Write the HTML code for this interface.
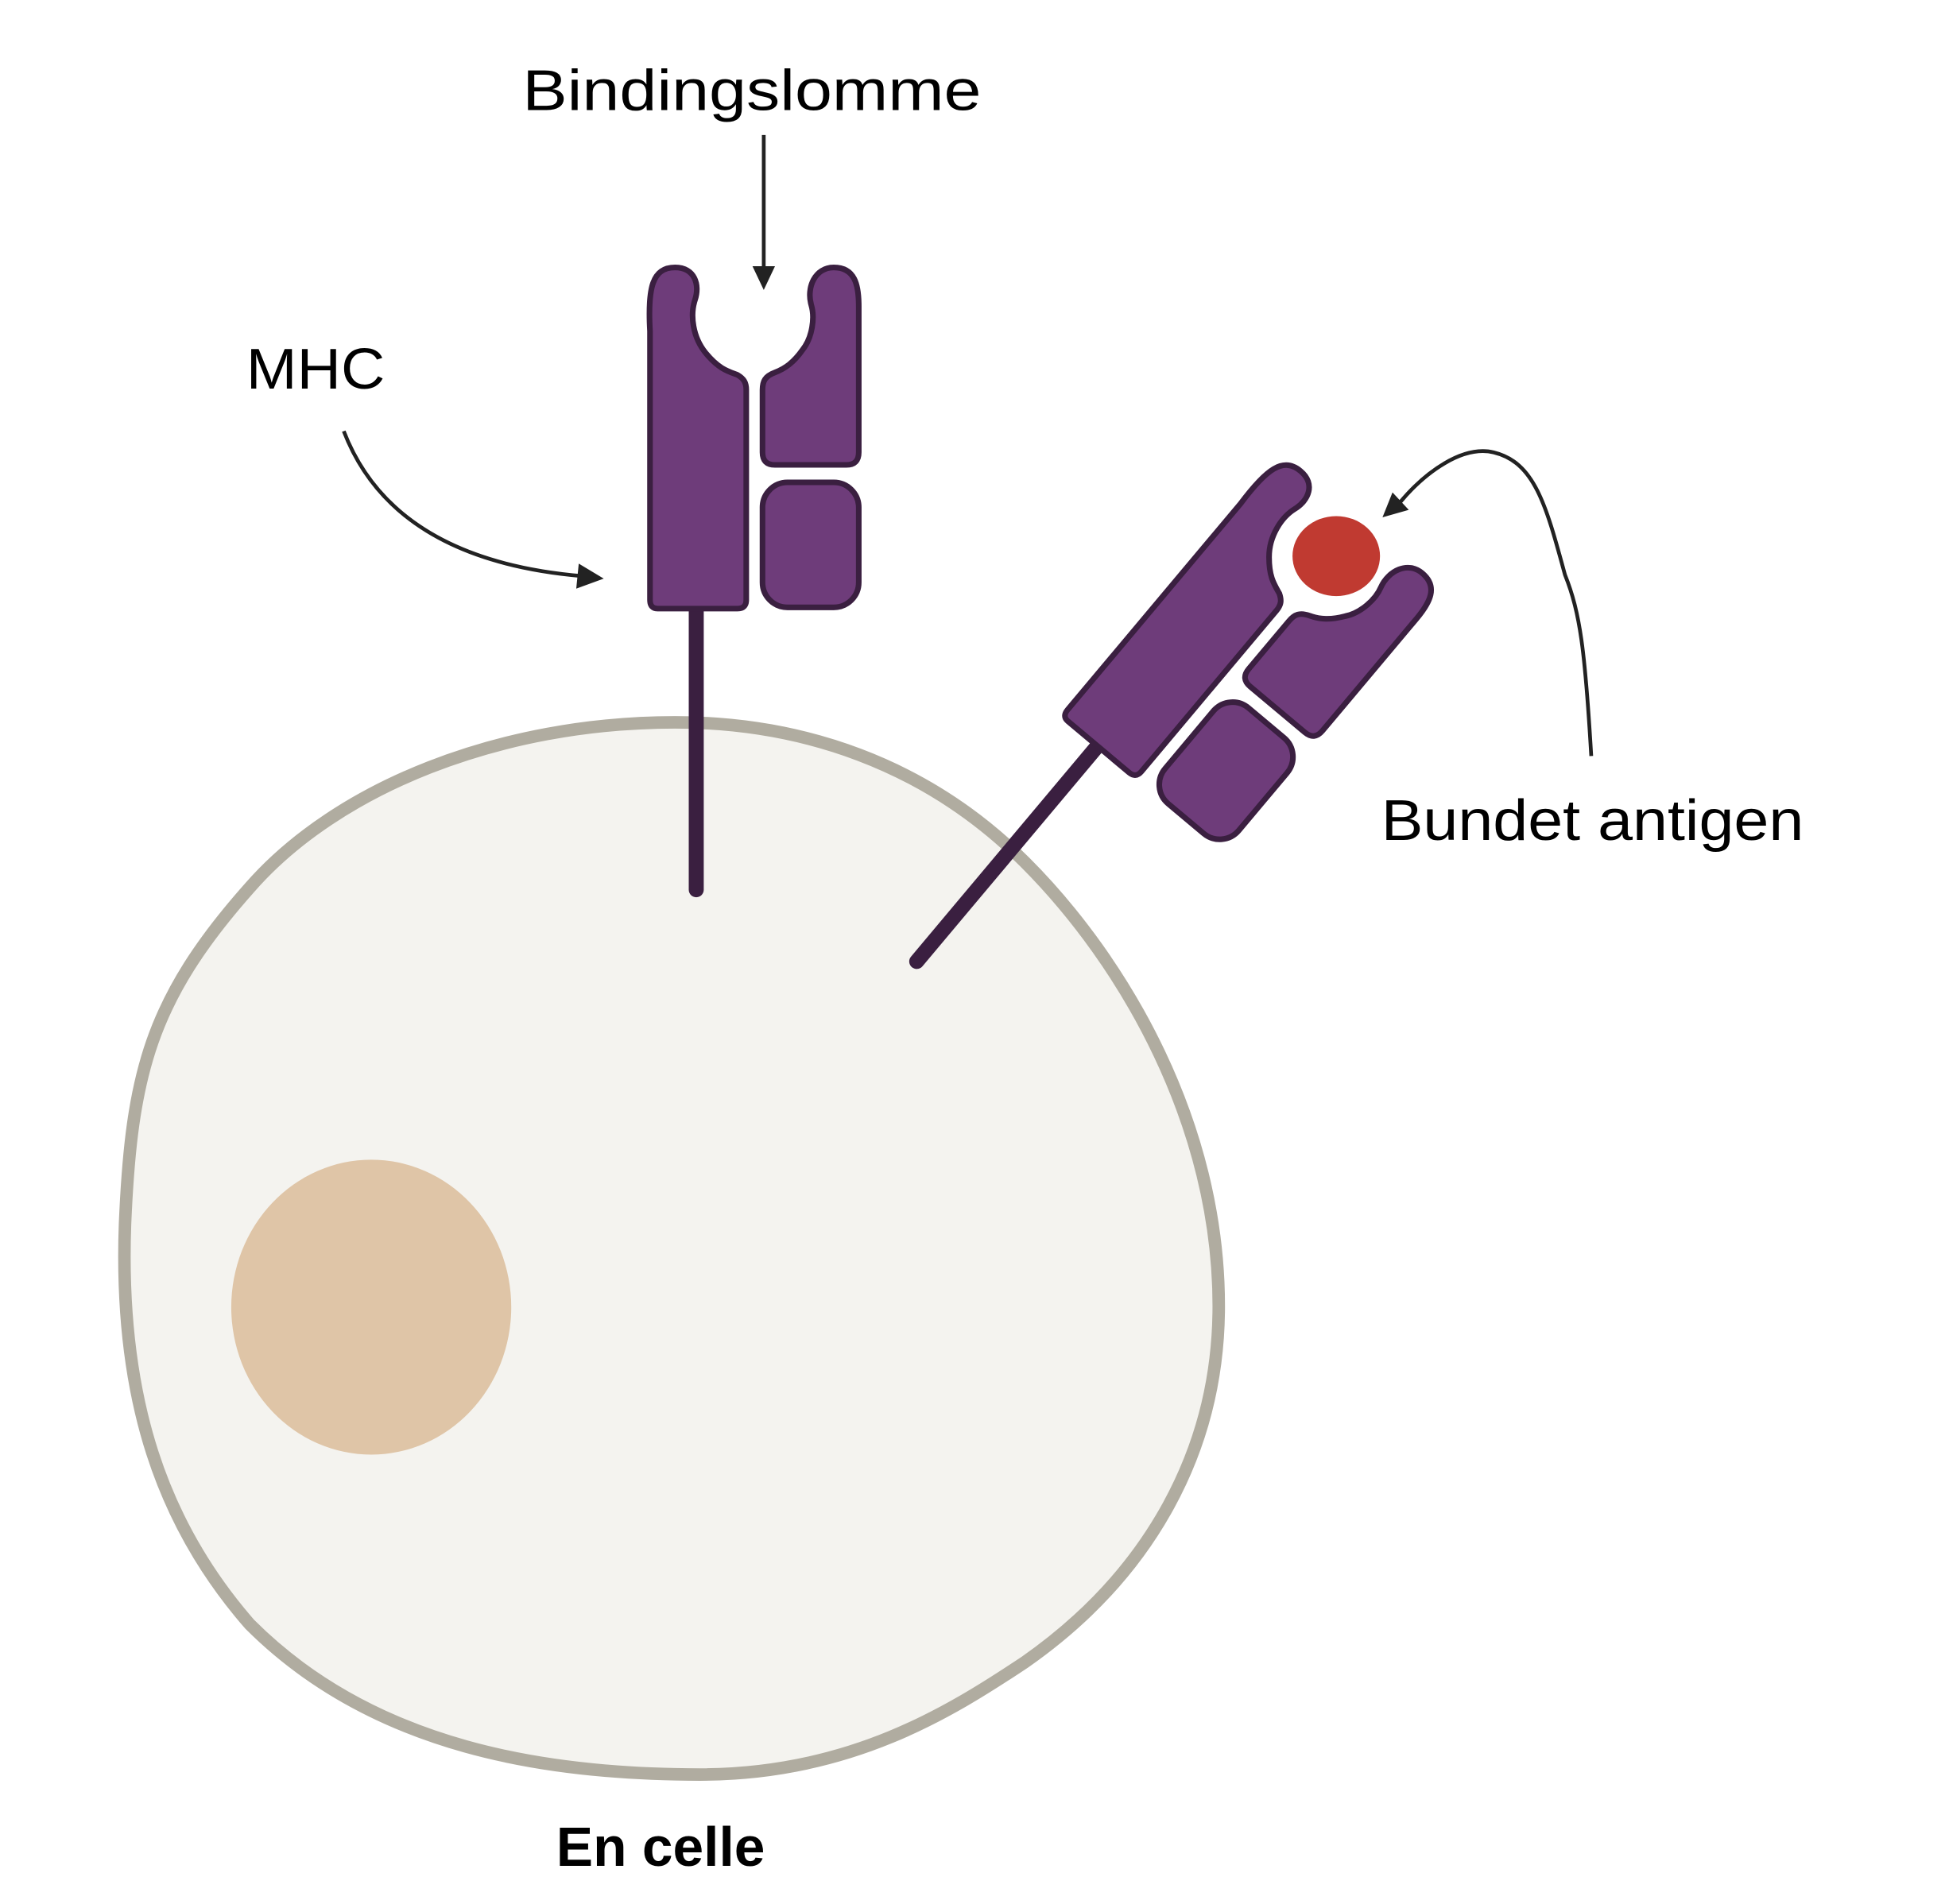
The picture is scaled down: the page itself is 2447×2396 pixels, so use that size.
<!DOCTYPE html>
<html><head><meta charset="utf-8"><style>html,body{margin:0;padding:0;background:#fff}svg{display:block}</style></head>
<body>
<svg width="2447" height="2396" viewBox="0 0 1556 1523.6" preserveAspectRatio="none" xmlns="http://www.w3.org/2000/svg">
<defs>
<g id="mhc">
<line x1="557" y1="487" x2="557" y2="712" stroke="#3a1f40" stroke-width="12" stroke-linecap="round"/>
<g fill="#6e3c7a" stroke="#3a1f40" stroke-width="4.5" stroke-linejoin="round">
<path d="M520,480 L520,265 C518,230 522,214 540,214 C556,214 560,228 556,240 C552,252 554,270 565,283 C575,295 582,297 590,300 C595,303 597,306 597,312 L597,480 Q597,487 590,487 L526,487 Q520,487 520,480Z"/>
<path d="M610,312 C610,305 612,301 620,298 C628,295 635,290 642,280 C650,270 652,254 649,244 C645,230 652,214 667,214 C684,214 687,228 687,245 L687,362 Q687,372 677,372 L620,372 Q610,372 610,362Z"/>
<rect x="610" y="386" width="77" height="100" rx="20"/>
</g>
</g>
</defs>
<path d="M540,578 C400,578 270,630 200,710 C120,800 105,860 100,980 C95,1120 130,1220 200,1300 C300,1400 440,1420 560,1420 C680,1420 760,1370 820,1330 C920,1260 975,1160 975,1045 C975,900 900,770 820,690 C740,610 640,578 540,578Z" fill="#f4f3ef" stroke="#b0aca0" stroke-width="10"/>
<ellipse cx="297" cy="1046" rx="112" ry="118" fill="#dfc5a7"/>
<use href="#mhc"/>
<g transform="translate(878,597) rotate(40) translate(-557,-487)"><use href="#mhc"/></g>
<ellipse cx="1069" cy="445" rx="35" ry="32" fill="#c03a31"/>
<g stroke="#222" stroke-width="3" fill="none">
<line x1="611" y1="108" x2="611" y2="215"/>
<path d="M275,345 C300,410 360,452 466,461"/>
<path d="M1273,605 C1268,520 1264,490 1252,460 C1237,405 1228,370 1195,362 C1170,356 1140,378 1120,402"/>
</g>
<g fill="#222">
<polygon points="602,213 620,213 611,232"/>
<polygon points="463,451 483,463 461,471"/>
<polygon points="1114,394 1127,408 1106,414"/>
</g>
<g font-family="Liberation Sans, sans-serif" fill="#000">
<text x="418" y="88" font-size="46" textLength="367" lengthAdjust="spacingAndGlyphs">Bindingslomme</text>
<text x="197" y="311" font-size="46" textLength="111" lengthAdjust="spacingAndGlyphs">MHC</text>
<text x="1105" y="672" font-size="46" textLength="338" lengthAdjust="spacingAndGlyphs">Bundet antigen</text>
<text x="445" y="1493" font-size="44" font-weight="bold" textLength="167" lengthAdjust="spacingAndGlyphs">En celle</text>
</g>
</svg>
</body></html>
